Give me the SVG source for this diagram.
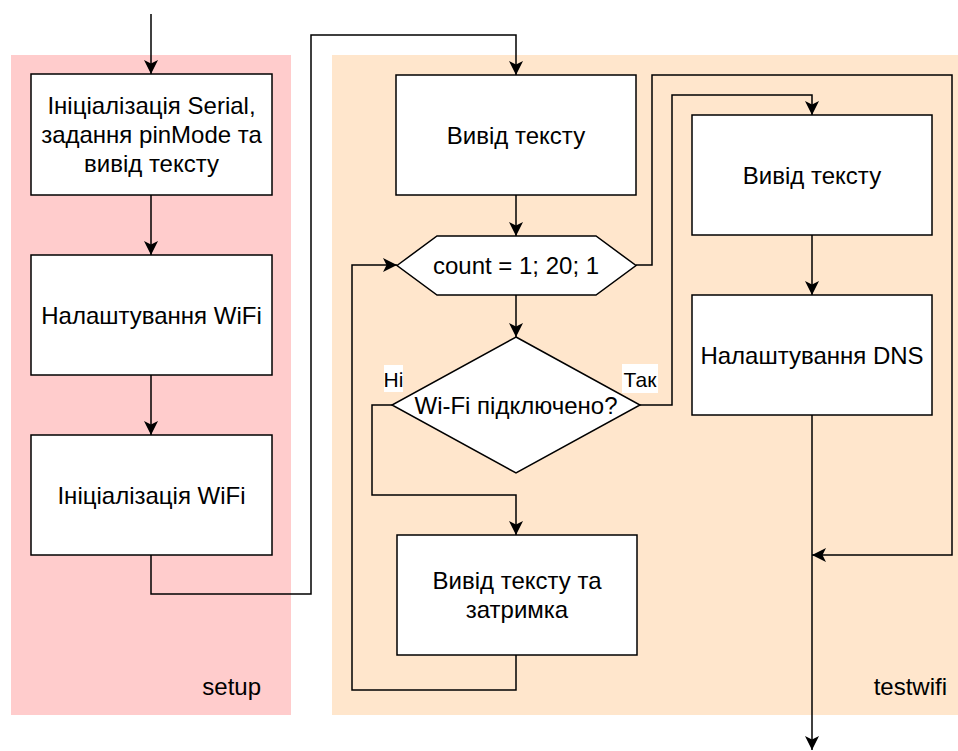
<svg xmlns="http://www.w3.org/2000/svg" width="958" height="751" viewBox="0 0 958 751">
<style>
.box{fill:#fff;stroke:#000;stroke-width:1.5}
.t{font-family:"Liberation Sans",Arial,sans-serif;font-size:24px;fill:#000;text-anchor:middle}
.lbl{font-family:"Liberation Sans",Arial,sans-serif;font-size:21px;fill:#000;text-anchor:middle}
.pl{font-family:"Liberation Sans",Arial,sans-serif;font-size:24px;fill:#000;text-anchor:end}
.e{fill:none;stroke:#000;stroke-width:1.5}
.ea{fill:none;stroke:#000;stroke-width:1.5;marker-end:url(#arr)}
</style>
<defs>
<marker id="arr" markerUnits="userSpaceOnUse" markerWidth="15" markerHeight="15" refX="14" refY="7" orient="auto" viewBox="0 0 15 14">
<path d="M0,0 L14,7 L0,14 L3.5,7 Z" fill="#000"/>
</marker>
</defs>
<g id="setup-panel">
<rect x="11" y="55" width="280" height="660" fill="#FFCCCC"/>
<text class="pl" x="261" y="695">setup</text>
</g>
<g id="testwifi-panel">
<rect x="332" y="55" width="626" height="660" fill="#FFE6CC"/>
<text class="pl" x="947" y="695">testwifi</text>
</g>
<g id="connectors">
<path class="ea" d="M151,14 V74"/>
<path class="ea" d="M151,195 V255"/>
<path class="ea" d="M151,375 V435"/>
<path class="ea" d="M151,555 V594 H311 V35 H516 V75"/>
<path class="ea" d="M516,195 V236"/>
<path class="ea" d="M516,295 V337"/>
<path class="ea" d="M392,405 H372 V495 H516 V535"/>
<path class="ea" d="M640,405 H672 V95 H812 V115"/>
<path class="ea" d="M636,265 H652 V75 H952 V555 H812"/>
<path class="ea" d="M812,235 V295"/>
<path class="ea" d="M812,415 V750"/>
<path class="ea" d="M516,655 V690 H352 V265 H397"/>
</g>
<g id="n1">
<rect class="box" x="31" y="74" width="241" height="121"/>
<text class="t" x="151.5" y="114">Ініціалізація Serial,</text>
<text class="t" x="151.5" y="143">задання pinMode та</text>
<text class="t" x="151.5" y="172">вивід тексту</text>
</g>
<g id="n2">
<rect class="box" x="31" y="255" width="241" height="120"/>
<text class="t" x="151.5" y="323.5">Налаштування WiFi</text>
</g>
<g id="n3">
<rect class="box" x="31" y="435" width="241" height="120"/>
<text class="t" x="151.5" y="503.5">Ініціалізація WiFi</text>
</g>
<g id="n4">
<rect class="box" x="396" y="75" width="240" height="120"/>
<text class="t" x="516" y="143.5">Вивід тексту</text>
</g>
<g id="n5">
<polygon class="box" points="397,265.5 437,236 596,236 636,265.5 596,295 437,295"/>
<text class="t" x="516" y="274">count = 1; 20; 1</text>
</g>
<g id="n6">
<polygon class="box" points="516,337 640,405 516,473 392,405"/>
<text class="t" x="516" y="413.5">Wi-Fi підключено?</text>
</g>
<g id="n7">
<rect class="box" x="397" y="535" width="240" height="120"/>
<text class="t" x="517" y="589">Вивід тексту та</text>
<text class="t" x="517" y="618">затримка</text>
</g>
<g id="n8">
<rect class="box" x="692" y="115" width="240" height="120"/>
<text class="t" x="812" y="183.5">Вивід тексту</text>
</g>
<g id="n9">
<rect class="box" x="692" y="295" width="240" height="120"/>
<text class="t" x="812" y="363.5">Налаштування DNS</text>
</g>
<g id="labels">
<rect x="384" y="365" width="19" height="27" fill="#fff"/>
<text class="lbl" x="393.5" y="387">Ні</text>
<rect x="622" y="364" width="36" height="29" fill="#fff"/>
<text class="lbl" x="640" y="387">Так</text>
</g>
</svg>
